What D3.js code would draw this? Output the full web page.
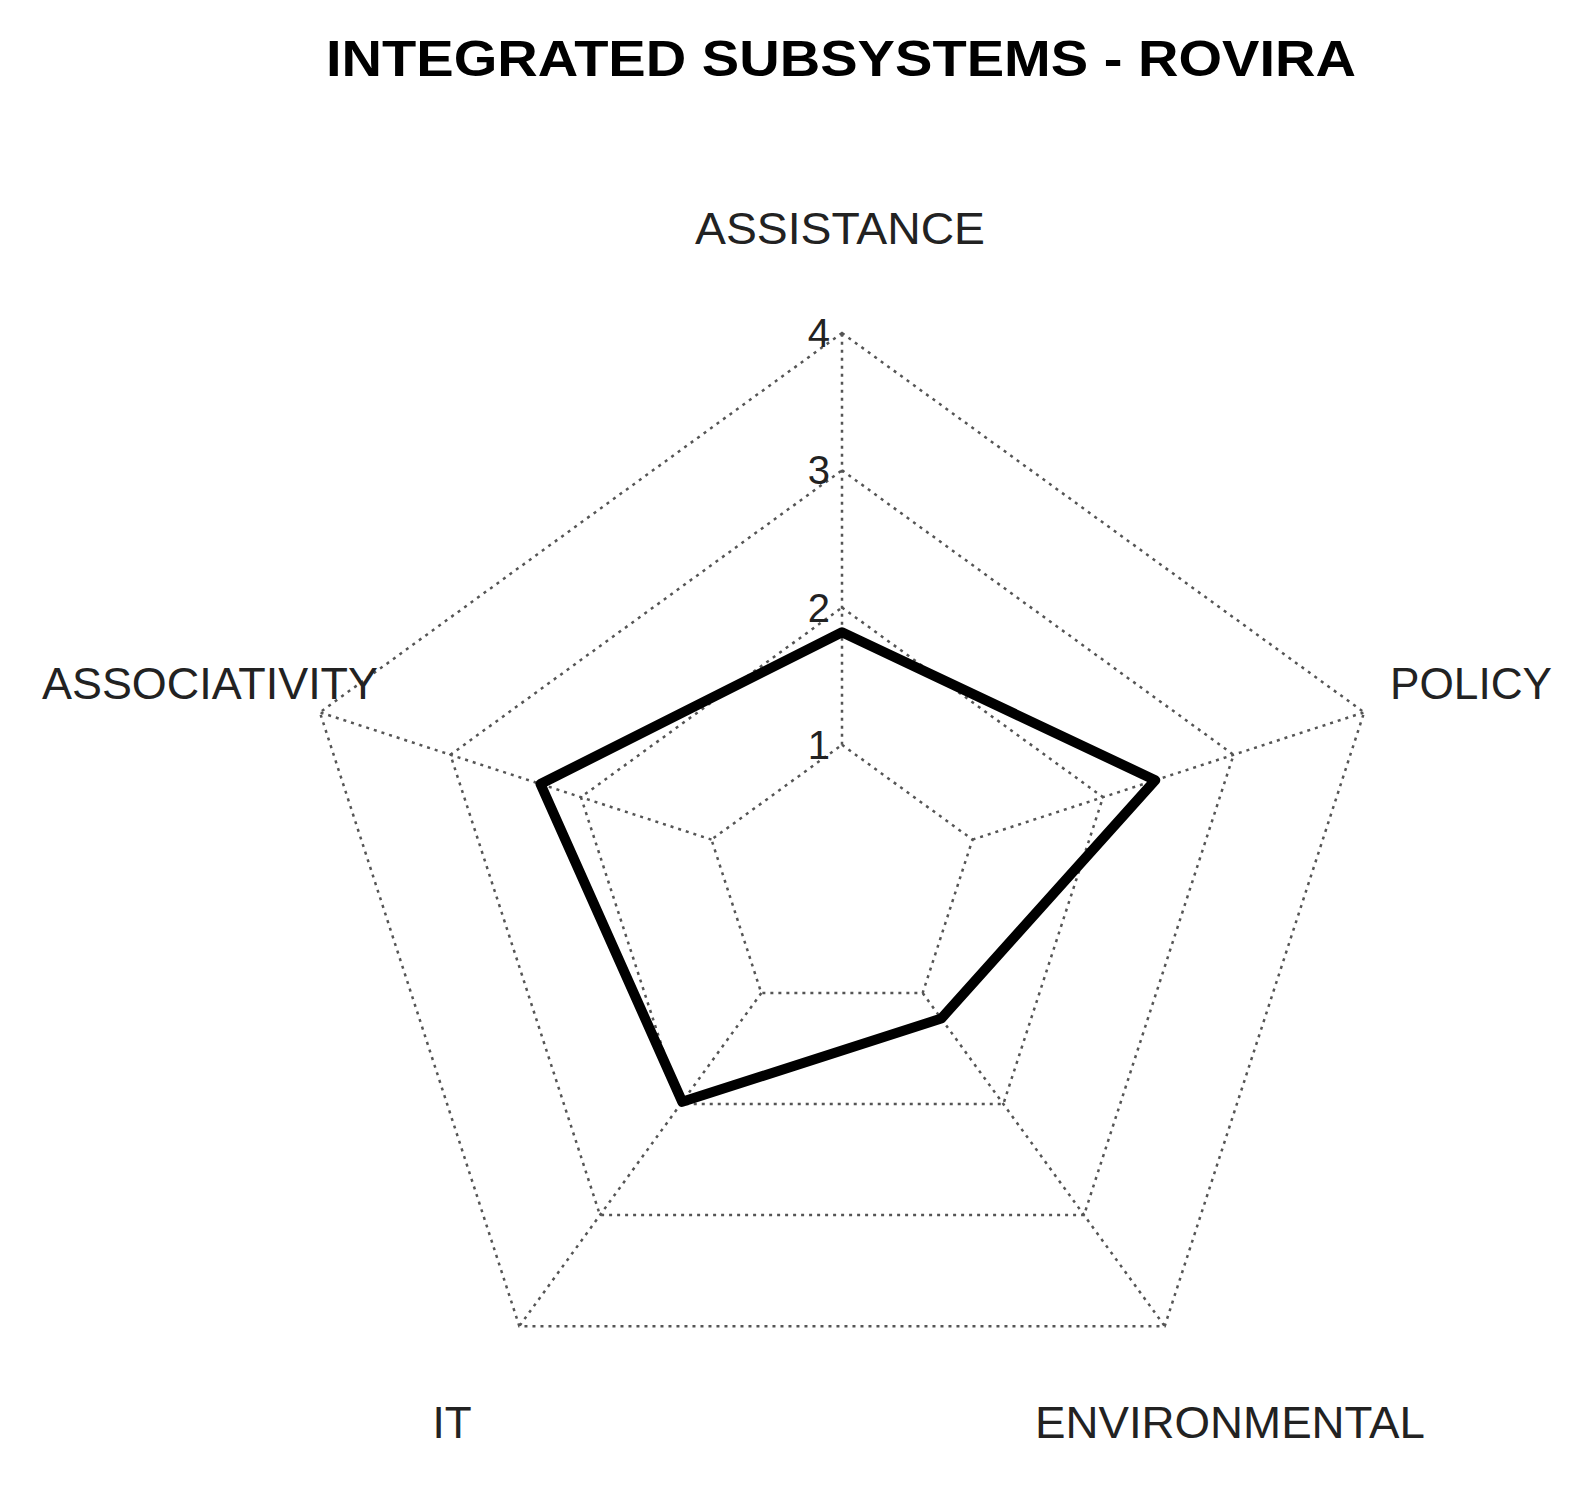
<!DOCTYPE html>
<meta charset="utf-8">
<style>
html,body{margin:0;background:#fff;overflow:hidden;}
svg{display:block;}
text{font-family:"Liberation Sans",Arial,sans-serif;}
</style>
<body>
<script src="https://cdnjs.cloudflare.com/ajax/libs/d3/7.8.5/d3.min.js"></script>
<script>
var axes = ["ASSISTANCE", "POLICY", "ENVIRONMENTAL", "IT", "ASSOCIATIVITY"];
var values = [1.82, 2.4, 1.23, 1.98, 2.31];
var ticks = [1, 2, 3, 4];
var title = "INTEGRATED SUBSYSTEMS - ROVIRA";

var W = 1578, H = 1499, cx = 842, cy = 882;
var svg = d3.select("body").append("svg").attr("width", W).attr("height", H);
var r = d3.scaleLinear().domain([0, 4]).range([0, 549]);
var ang = function(i) { return -Math.PI / 2 + i * 2 * Math.PI / axes.length; };
var pt = function(i, v) { return [cx + r(v) * Math.cos(ang(i)), cy + r(v) * Math.sin(ang(i))]; };
var line = d3.line();

svg.append("text").attr("x", 841).attr("y", 76).attr("text-anchor", "middle")
  .attr("font-size", 50).attr("font-weight", "bold")
  .attr("textLength", 1030).attr("lengthAdjust", "spacingAndGlyphs").text(title);

// grid rings
svg.selectAll(".ring").data(ticks).enter().append("path")
  .attr("d", function(t) { return line(axes.map(function(a, i) { return pt(i, t); })) + "Z"; })
  .attr("fill", "none").attr("stroke", "#555").attr("stroke-width", 2.5).attr("stroke-dasharray", "3,5");
// spokes
svg.selectAll(".spoke").data(axes).enter().append("line")
  .attr("x1", function(d, i) { return pt(i, 1)[0]; }).attr("y1", function(d, i) { return pt(i, 1)[1]; })
  .attr("x2", function(d, i) { return pt(i, 4)[0]; }).attr("y2", function(d, i) { return pt(i, 4)[1]; })
  .attr("stroke", "#555").attr("stroke-width", 2.5).attr("stroke-dasharray", "3,5");

// tick labels
svg.selectAll(".tick").data(ticks).enter().append("text")
  .attr("x", cx - 12).attr("y", function(t) { return cy - r(t) + 14; })
  .attr("text-anchor", "end").attr("font-size", 40).attr("fill", "#222").text(function(t) { return t; });

// data polygon
svg.append("path")
  .attr("d", line(values.map(function(v, i) { return pt(i, v); })) + "Z")
  .attr("fill", "none").attr("stroke", "#000").attr("stroke-width", 10).attr("stroke-linejoin", "round");

// axis labels: x, y, width
var labelPos = [[840, 244, 290], [1471, 699, 162], [1230, 1438, 390], [452, 1438, 0], [210, 699, 336]];
svg.selectAll(".lab").data(axes).enter().append("text")
  .attr("x", function(d, i) { return labelPos[i][0]; }).attr("y", function(d, i) { return labelPos[i][1]; })
  .attr("text-anchor", "middle").attr("font-size", 44).attr("fill", "#222")
  .each(function(d, i) {
    if (labelPos[i][2]) d3.select(this).attr("textLength", labelPos[i][2]).attr("lengthAdjust", "spacingAndGlyphs");
  })
  .text(function(d) { return d; });
</script>
</body>
